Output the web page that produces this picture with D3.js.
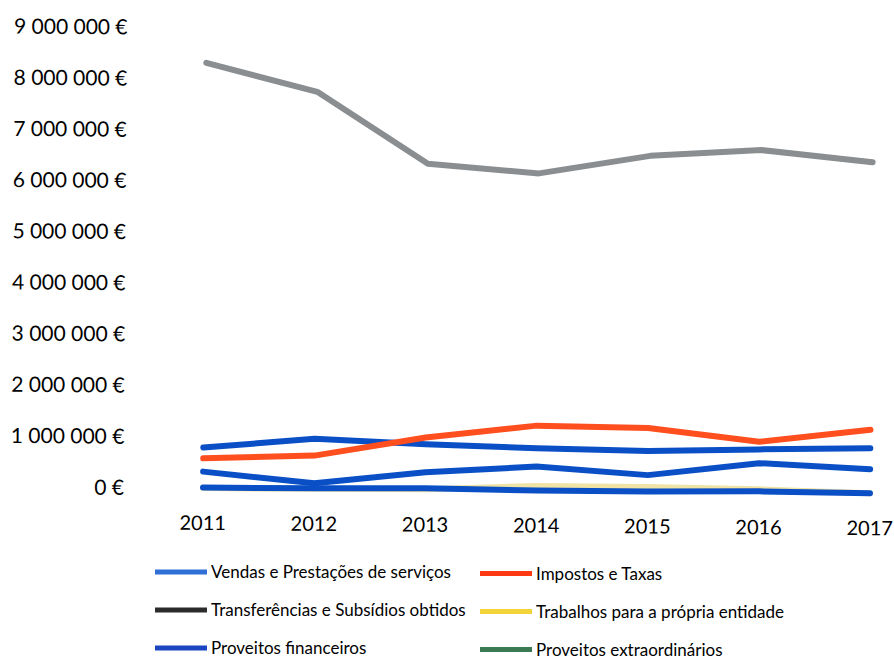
<!DOCTYPE html>
<meta charset="utf-8">
<script src="https://d3js.org/d3.v7.min.js"></script>
<style>
  body { margin: 0; background: #fff; }
  text { font-family: Lato, "Noto Sans", sans-serif; fill: #000; }
</style>
<div id="vis"></div>
<script>

// data (euros)
var years = [2011, 2012, 2013, 2014, 2015, 2016, 2017]
var vendas = [790000, 980000, 890000, 830000, 790000, 840000, 880000]
var impostos = [580000, 650000, 1020000, 1270000, 1240000, 990000, 1240000]
var transferencias = [8310000, 7760000, 6370000, 6200000, 6560000, 6690000, 6470000]
var trabalhos = [0, 0, 10000, 90000, 90000, 60000, 0]
var financeiros = [320000, 110000, 340000, 470000, 320000, 570000, 470000]
var extraordinarios = [10000, 10000, 30000, 0, 0, 20000, 0]
var yTicks = [0, 1000000, 2000000, 3000000, 4000000, 5000000, 6000000, 7000000, 8000000, 9000000]

var series = [
  {name: "Vendas e Prestações de serviços", values: vendas, line: "#0a4fc6", key: "#2f6fd6"},
  {name: "Impostos e Taxas", values: impostos, line: "#ff4f1f", key: "#ff3a12"},
  {name: "Transferências e Subsídios obtidos", values: transferencias, line: "#8b8e91", key: "#2b2b2b"},
  {name: "Trabalhos para a própria entidade", values: trabalhos, line: "#efe3a6", key: "#f2d33a"},
  {name: "Proveitos financeiros", values: financeiros, line: "#0a4fc6", key: "#1a44c0"},
  {name: "Proveitos extraordinários", values: extraordinarios, line: "#0a4fc6", key: "#3b7a52"}
]

var width = 894
    height = 660

var svg = d3.select("#vis")
  .append("svg")
    .attr("width", width)
    .attr("height", height)

// the scan is slightly tilted
var g = svg.append("g")
    .attr("transform", "rotate(0.45, 203, 488)")

var x = d3.scalePoint()
    .domain(years)
    .range([203, 870])

var y = d3.scaleLinear()
    .domain([0, 9000000])
    .range([488, 27.5])

var locale = d3.formatLocale({decimal: ",", thousands: "\u00a0", grouping: [3], currency: ["", "\u00a0€"]})
var fmt = locale.format("$,.0f")

// y labels
g.selectAll(".ylab")
  .data(yTicks)
  .enter()
  .append("text")
    .attr("class", "ylab")
    .attr("x", 124)
    .attr("y", function(d){ return y(d) })
    .attr("dy", "0.36em")
    .attr("text-anchor", "end")
    .style("font-size", "21px")
    .text(fmt)

// x labels
g.selectAll(".xlab")
  .data(years)
  .enter()
  .append("text")
    .attr("class", "xlab")
    .attr("x", function(d){ return x(d) })
    .attr("y", 530)
    .attr("text-anchor", "middle")
    .style("font-size", "20px")
    .text(function(d){ return d })

var line = d3.line()
    .x(function(d, i){ return x(years[i]) })
    .y(function(d){ return y(d) })

// draw order: grey, yellow, green, financeiros, vendas, impostos
var order = [2, 3, 5, 4, 0, 1]

g.selectAll(".series")
  .data(order.map(function(i){ return series[i] }))
  .enter()
  .append("path")
    .attr("class", "series")
    .attr("d", function(d){ return line(d.values) })
    .attr("fill", "none")
    .attr("stroke", function(d){ return d.line })
    .attr("stroke-width", 6)
    .attr("stroke-linecap", "round")
    .attr("stroke-linejoin", "round")

// legend
var leg = svg.selectAll(".leg")
  .data(series)
  .enter()
  .append("g")
    .attr("class", "leg")
    .attr("transform", function(d, i){
      return "translate(" + (i % 2 == 0 ? 155 : 480) + "," + (572 + (i % 2) * 1.5 + Math.floor(i / 2) * 38) + ")"
    })

leg.append("line")
    .attr("x1", 0)
    .attr("x2", 52)
    .attr("stroke", function(d){ return d.key })
    .attr("stroke-width", 5)

leg.append("text")
    .attr("x", 56)
    .attr("dy", "0.36em")
    .style("font-size", "17px")
    .text(function(d){ return d.name })

</script>
